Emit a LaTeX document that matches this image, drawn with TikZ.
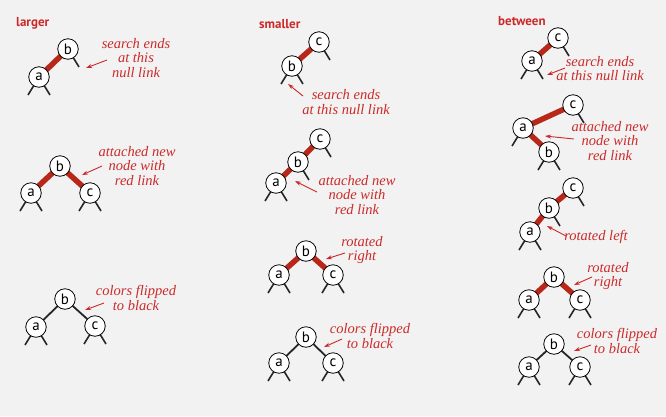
\documentclass[tikz,border=0pt]{standalone}
\usepackage{fontspec}
\setmainfont{Liberation Serif}
\newfontfamily\nodefont{PT Sans}
\usetikzlibrary{arrows.meta}
\definecolor{bgc}{HTML}{F2F2F2}
\definecolor{linkred}{HTML}{B8281A}
\definecolor{txtred}{HTML}{CC2A2A}
\pgfdeclarelayer{bgl}
\pgfdeclarelayer{lnk}
\pgfsetlayers{bgl,lnk,main}
\begin{document}
\begin{tikzpicture}[x=1pt,y=-1pt,
  nd/.style={circle,draw=black,line width=0.8pt,fill=white,minimum size=20.5pt,inner sep=0pt,
    font=\nodefont\fontsize{15}{15}\selectfont},
  redl/.style={line width=5.5pt,draw=linkred},
  blkl/.style={line width=1.8pt,draw=black!85},
  leg/.style={line width=1.6pt,draw=black!85},
  lbl/.style={text=txtred,font=\itshape\fontsize{14.5}{14.5}\selectfont,align=center,inner sep=0pt},
  hdr/.style={text=txtred,font=\nodefont\bfseries\fontsize{13}{13}\selectfont,anchor=west,inner sep=0pt},
  arr/.style={draw=txtred,line width=0.9pt,-{Stealth[length=6pt,width=4pt]}}
]
\begin{pgfonlayer}{bgl}
\fill[bgc] (0,0) rectangle (666,416);
\end{pgfonlayer}
\useasboundingbox (0,0) rectangle (666,416);

% headers
\node[hdr] (h1) at (16,23) {larger};
\node[hdr] (h2) at (259,24) {smaller};
\node[hdr] (h3) at (498,21) {between};

% ---------- panel 1 ----------
\node[nd] (b11) at (68,49) {b};
\node[nd] (a11) at (39,77) {a};
\node[nd] (b12) at (60,166) {b};
\node[nd] (a12) at (31,193) {a};
\node[nd] (c12) at (90,193) {c};
\node[nd] (b13) at (65,299) {b};
\node[nd] (a13) at (36,327) {a};
\node[nd] (c13) at (95,326) {c};

% ---------- panel 2 ----------
\node[nd] (c21) at (319,42) {c};
\node[nd] (b21) at (292,66) {b};
\node[nd] (c22) at (320,139) {c};
\node[nd] (b22) at (298,162) {b};
\node[nd] (a22) at (276,183) {a};
\node[nd] (b23) at (306,251) {b};
\node[nd] (a23) at (279,275) {a};
\node[nd] (c23) at (333,275) {c};
\node[nd] (b24) at (306,337) {b};
\node[nd] (a24) at (279,363) {a};
\node[nd] (c24) at (333,363) {c};

% ---------- panel 3 ----------
\node[nd] (c31) at (558,38) {c};
\node[nd] (a31) at (532,61) {a};
\node[nd] (c32) at (573,105) {c};
\node[nd] (a32) at (523,128) {a};
\node[nd] (b32) at (549,152) {b};
\node[nd] (c33) at (573,188) {c};
\node[nd] (b33) at (549,208) {b};
\node[nd] (a33) at (530,232) {a};
\node[nd] (b34) at (554,277) {b};
\node[nd] (a34) at (529,300) {a};
\node[nd] (c34) at (580,300) {c};
\node[nd] (b35) at (554,344) {b};
\node[nd] (a35) at (529,367) {a};
\node[nd] (c35) at (580,367) {c};

\begin{pgfonlayer}{lnk}
% links
\draw[redl] (b11.center) -- (a11.center);
\draw[redl] (b12.center) -- (a12.center);
\draw[redl] (b12.center) -- (c12.center);
\draw[blkl] (b13.center) -- (a13.center);
\draw[blkl] (b13.center) -- (c13.center);
\draw[redl] (c21.center) -- (b21.center);
\draw[redl] (c22.center) -- (b22.center);
\draw[redl] (b22.center) -- (a22.center);
\draw[redl] (b23.center) -- (a23.center);
\draw[redl] (b23.center) -- (c23.center);
\draw[blkl] (b24.center) -- (a24.center);
\draw[blkl] (b24.center) -- (c24.center);
\draw[redl] (c31.center) -- (a31.center);
\draw[redl] (c32.center) -- (a32.center);
\draw[redl] (a32.center) -- (b32.center);
\draw[redl] (c33.center) -- (b33.center);
\draw[redl] (b33.center) -- (a33.center);
\draw[redl] (b34.center) -- (a34.center);
\draw[redl] (b34.center) -- (c34.center);
\draw[blkl] (b35.center) -- (a35.center);
\draw[blkl] (b35.center) -- (c35.center);
% null links (left / right)
\foreach \n in {a11,a12,c12,a13,c13,b21,a22,a23,c23,a24,c24,a31,a32,b32,a33,a34,c34,a35,c35}
  \draw[leg] (\n.center) -- +(-11,18);
\foreach \n in {b11,a11,a12,c12,a13,c13,c21,b21,c22,b22,a22,a23,c23,a24,c24,c31,a31,c32,b32,c33,b33,a33,a34,c34,a35,c35}
  \draw[leg] (\n.center) -- +(11,18);
\end{pgfonlayer}

% labels
\node[lbl] (l11) at (136,58) {search ends\\at this\\null link};
\node[lbl] (l12) at (137,166) {attached new\\node with\\red link};
\node[lbl] (l13) at (136,298) {colors flipped\\to black};
\node[lbl] (l21) at (346,102) {search ends\\at this null link};
\node[lbl] (l22) at (357,195) {attached new\\node with\\red link};
\node[lbl] (l23) at (362,250) {rotated\\right};
\node[lbl] (l24) at (370,336) {colors flipped\\to black};
\node[lbl] (l31) at (600,68.5) {search ends\\at this null link};
\node[lbl] (l32) at (610,141) {attached new\\node with\\red link};
\node[lbl] (l33) at (596,237) {rotated left};
\node[lbl] (l34) at (608,276) {rotated\\right};
\node[lbl] (l35) at (617,341) {colors flipped\\to black};

% arrows
\coordinate (s11) at (107,60);  \coordinate (e11) at (86,68);
\coordinate (s12) at (102,166); \coordinate (e12) at (82,175);
\coordinate (s13) at (104,303); \coordinate (e13) at (85,310);
\coordinate (s21) at (303,96);  \coordinate (e21) at (288,84);
\coordinate (s22) at (317,192); \coordinate (e22) at (295,181);
\coordinate (s23) at (345,253); \coordinate (e23) at (326,259);
\coordinate (s24) at (342,339); \coordinate (e24) at (324,347);
\coordinate (s31) at (565,68);  \coordinate (e31) at (547,75);
\coordinate (s32) at (574,139); \coordinate (e32) at (545,136);
\coordinate (s33) at (566,236); \coordinate (e33) at (547,226);
\coordinate (s34) at (592,277); \coordinate (e34) at (574,285);
\coordinate (s35) at (591,345); \coordinate (e35) at (574,351);
\foreach \k in {11,12,13,21,22,23,24,31,32,33,34,35}
  \draw[arr] (s\k) -- (e\k);
\end{tikzpicture}
\end{document}
